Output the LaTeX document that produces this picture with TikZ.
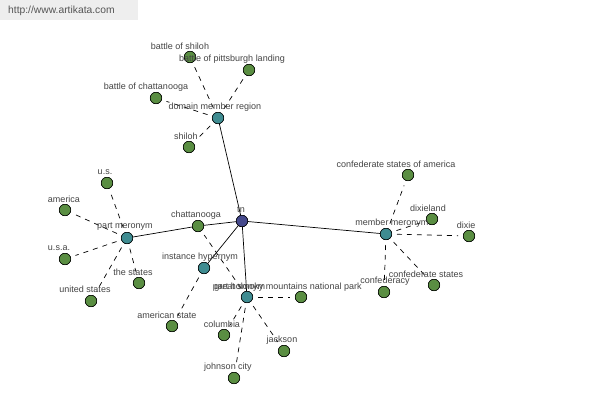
\documentclass[tikz,border=0pt]{standalone}
\usepackage{fontspec}
\setmainfont{Liberation Sans}
\begin{document}
\begin{tikzpicture}[x=1pt,y=-1pt,
  leaf/.style={circle,draw=black,fill=leafgreen,line width=0.5pt,minimum size=11.5pt,inner sep=0pt},
  hub/.style={circle,draw=black,fill=hubteal,line width=0.5pt,minimum size=11.5pt,inner sep=0pt},
  root/.style={circle,draw=black,fill=rootblue,line width=0.5pt,minimum size=11.5pt,inner sep=0pt},
  lbl/.style={font=\fontsize{9}{10}\selectfont,text=labelgray,inner sep=0pt},
  solidedge/.style={draw=black,line width=0.7pt},
  dashedge/.style={draw=black,line width=0.7pt,dash pattern=on 5pt off 5pt,shorten <=5pt,shorten >=5pt}]
\definecolor{leafgreen}{HTML}{5A8E42}
\definecolor{hubteal}{HTML}{3F8C91}
\definecolor{rootblue}{HTML}{45498C}
\definecolor{labelgray}{HTML}{444444}
\definecolor{wmgray}{HTML}{EEEEEE}
\definecolor{wmtext}{HTML}{555555}
\useasboundingbox (0,0) rectangle (600,400);
\fill[white] (0,0) rectangle (600,400);
\fill[wmgray] (0,0) rectangle (138,20);
\node[anchor=west,font=\fontsize{10.3}{11}\selectfont,text=wmtext,inner sep=0pt] (wm) at (8,11) {http://www.artikata.com};

% nodes
\node[root] (tn) at (242,221) {};
\node[hub] (dmr) at (218,118) {};
\node[hub] (pm) at (127,238) {};
\node[hub] (ih) at (204,268) {};
\node[hub] (ph) at (247,297) {};
\node[hub] (mm) at (386,234) {};

\node[leaf] (bshiloh) at (190,57) {};
\node[leaf] (bpitt) at (249,70) {};
\node[leaf] (bchatt) at (156,98) {};
\node[leaf] (shiloh) at (189,147) {};

\node[leaf] (us) at (107,183) {};
\node[leaf] (america) at (65,210) {};
\node[leaf] (usa) at (65,259) {};
\node[leaf] (unitedstates) at (91,301) {};
\node[leaf] (thestates) at (139,283) {};

\node[leaf] (chatt) at (198,226) {};
\node[leaf] (amstate) at (172,326) {};
\node[leaf] (gsm) at (301,297) {};
\node[leaf] (columbia) at (224,335) {};
\node[leaf] (johnson) at (234,378) {};
\node[leaf] (jackson) at (284,351) {};

\node[leaf] (csa) at (408,175) {};
\node[leaf] (dixieland) at (432,219) {};
\node[leaf] (dixie) at (469,236) {};
\node[leaf] (cstates) at (434,285) {};
\node[leaf] (confed) at (384,292) {};

% edges
\draw[solidedge] (tn) -- (dmr);
\draw[solidedge] (tn) -- (chatt);
\draw[solidedge] (chatt) -- (pm);
\draw[solidedge] (tn) -- (ih);
\draw[solidedge] (tn) -- (ph);
\draw[solidedge] (tn) -- (mm);

\foreach \a in {bshiloh,bpitt,bchatt,shiloh} \draw[dashedge] (dmr) -- (\a);
\foreach \a in {us,america,usa,unitedstates,thestates} \draw[dashedge] (pm) -- (\a);
\draw[dashedge] (ih) -- (amstate);
\foreach \a in {chatt,gsm,columbia,johnson,jackson} \draw[dashedge] (ph) -- (\a);
\foreach \a in {csa,dixieland,dixie,cstates,confed} \draw[dashedge] (mm) -- (\a);

% redraw nodes on top of the connectors
\node[root] at (tn) {};
\foreach \n in {dmr,pm,ih,ph,mm} \node[hub] at (\n) {};
\foreach \n in {bshiloh,bpitt,bchatt,shiloh,us,america,usa,unitedstates,thestates,chatt,amstate,gsm,columbia,johnson,jackson,csa,dixieland,dixie,cstates,confed} \node[leaf] at (\n) {};

% labels
\node[lbl] (l-tn) at (241,210) {tn};
\node[lbl] (l-dmr) at (215,107) {domain member region};
\node[lbl] (l-bshiloh) at (180,46) {battle of shiloh};
\node[lbl] (l-bpitt) at (232,59) {battle of pittsburgh landing};
\node[lbl] (l-bchatt) at (146,87) {battle of chattanooga};
\node[lbl] (l-shiloh) at (186,136) {shiloh};
\node[lbl] (l-pm) at (125,227) {part meronym};
\node[lbl] (l-us) at (105,172) {u.s.};
\node[lbl] (l-america) at (64,199) {america};
\node[lbl] (l-usa) at (59,248) {u.s.a.};
\node[lbl] (l-unitedstates) at (85,289) {united states};
\node[lbl] (l-thestates) at (133,272) {the states};
\node[lbl] (l-chatt) at (196,215) {chattanooga};
\node[lbl] (l-ih) at (200,257) {instance hypernym};
\node[lbl] (l-amstate) at (167,315) {american state};
\node[lbl] (l-ph) at (239,287) {part holonym};
\node[lbl] (l-gsm) at (288,287) {great smoky mountains national park};
\node[lbl] (l-columbia) at (222,324) {columbia};
\node[lbl] (l-johnson) at (228,367) {johnson city};
\node[lbl] (l-jackson) at (282,340) {jackson};
\node[lbl] (l-mm) at (392,223) {member meronym};
\node[lbl] (l-csa) at (396,164) {confederate states of america};
\node[lbl] (l-dixieland) at (428,208) {dixieland};
\node[lbl] (l-dixie) at (466,225) {dixie};
\node[lbl] (l-cstates) at (426,274) {confederate states};
\node[lbl] (l-confed) at (385,281) {confederacy};
\end{tikzpicture}
\end{document}
